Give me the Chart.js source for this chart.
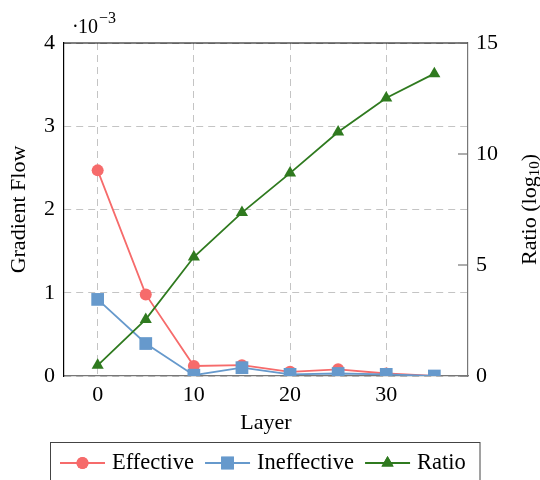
<!DOCTYPE html>
<html>
<head>
<meta charset="utf-8">
<script src="https://cdn.jsdelivr.net/npm/chart.js@4.4.1/dist/chart.umd.min.js"></script>
<style>
  html, body { margin: 0; padding: 0; background: #fff; }
  #chart { display: block; }
</style>
</head>
<body>
<canvas id="chart" width="540" height="480"></canvas>
<script>
// --- Data ---
const layers      = [0, 5, 10, 15, 20, 25, 30, 35];
const effective   = [2.47, 0.98, 0.12, 0.13, 0.05, 0.08, 0.03, 0.00];   // x 10^-3
const ineffective = [0.92, 0.39, 0.01, 0.10, 0.02, 0.03, 0.02, 0.00];   // x 10^-3
const ratio       = [0.48, 2.55, 5.36, 7.36, 9.14, 10.99, 12.52, 13.62]; // log10
const xTicks      = [0, 10, 20, 30];
const seriesNames = ['Effective', 'Ineffective', 'Ratio'];

// --- Style ---
const RED   = '#f66b6b';
const BLUE  = '#6699cc';
const GREEN = '#2f7a1f';
const GRID  = '#c4c4c4';
const AXIS  = '#777';
const FONT  = '"Liberation Serif", "Times New Roman", serif';
const DASH  = [7, 5];

const pts = ys => layers.map((x, i) => ({ x, y: ys[i] }));
const tickFont = { family: FONT, size: 22 };

// --- Extras: top frame, inward ticks, exponent, right title, legend ---
const extras = {
  id: 'extras',
  afterDraw(chart) {
    const { ctx, chartArea: a } = chart;
    ctx.save();

    // top frame line
    ctx.strokeStyle = '#000';
    ctx.lineWidth = 1.2;
    ctx.beginPath();
    ctx.moveTo(a.left, a.top);
    ctx.lineTo(a.right, a.top);
    ctx.stroke();

    // right axis ticks pointing inward
    const y1 = chart.scales.y1;
    ctx.strokeStyle = AXIS;
    y1.ticks.forEach(t => {
      const py = y1.getPixelForValue(t.value);
      ctx.beginPath();
      ctx.moveTo(a.right - 10, py);
      ctx.lineTo(a.right, py);
      ctx.stroke();
    });

    // exponent above left axis
    ctx.fillStyle = '#000';
    ctx.textBaseline = 'alphabetic';
    ctx.textAlign = 'left';
    ctx.font = `20px ${FONT}`;
    ctx.fillText('\u00b7', 72, 33);
    ctx.fillText('10', 78, 33);
    ctx.font = `16px ${FONT}`;
    ctx.fillText('\u22123', 99, 23);

    // right axis title, reading upward, with subscript
    ctx.translate(530, (a.top + a.bottom) / 2);
    ctx.rotate(-Math.PI / 2);
    ctx.textBaseline = 'middle';
    const big = `22px ${FONT}`, small = `15px ${FONT}`;
    ctx.font = big;
    const w1 = ctx.measureText('Ratio (log').width;
    const w3 = ctx.measureText(')').width;
    ctx.font = small;
    const w2 = ctx.measureText('10').width;
    let tx = -(w1 + w2 + w3) / 2;
    ctx.font = big;
    ctx.fillText('Ratio (log', tx, 0);
    tx += w1;
    ctx.font = small;
    ctx.fillText('10', tx, 5);
    tx += w2;
    ctx.font = big;
    ctx.fillText(')', tx, 0);
    ctx.setTransform(1, 0, 0, 1, 0, 0);

    // legend
    ctx.strokeStyle = '#444';
    ctx.lineWidth = 1;
    ctx.strokeRect(50.5, 442.5, 429.5, 60);
    const colors = [RED, BLUE, GREEN];
    const styles = [
      { pointStyle: 'circle', radius: 6 },
      { pointStyle: 'rect', radius: 9 },
      { pointStyle: 'triangle', radius: 7 }
    ];
    const ly = 463;
    let lx = 60;
    ctx.font = `22.5px ${FONT}`;
    ctx.textBaseline = 'alphabetic';
    seriesNames.forEach((name, i) => {
      ctx.strokeStyle = colors[i];
      ctx.fillStyle = colors[i];
      ctx.lineWidth = 1.8;
      ctx.beginPath();
      ctx.moveTo(lx, ly);
      ctx.lineTo(lx + 45, ly);
      ctx.stroke();
      Chart.helpers.drawPoint(ctx, { ...styles[i], rotation: 0, borderWidth: 0 }, lx + 22.5, ly);
      ctx.fill();
      ctx.fillStyle = '#000';
      ctx.fillText(name, lx + 52, 469);
      lx += 52 + ctx.measureText(name).width + 11;
    });

    ctx.restore();
  }
};

// --- Chart ---
new Chart(document.getElementById('chart'), {
  type: 'line',
  data: {
    datasets: [
      {
        label: seriesNames[0], data: pts(effective), yAxisID: 'y', order: 2,
        borderColor: RED, backgroundColor: RED, borderWidth: 1.8,
        pointStyle: 'circle', pointRadius: 6, pointBorderWidth: 0
      },
      {
        label: seriesNames[1], data: pts(ineffective), yAxisID: 'y', order: 1,
        borderColor: BLUE, backgroundColor: BLUE, borderWidth: 1.8,
        pointStyle: 'rect', pointRadius: 9, pointBorderWidth: 0
      },
      {
        label: seriesNames[2], data: pts(ratio), yAxisID: 'y1', order: 0,
        borderColor: GREEN, backgroundColor: GREEN, borderWidth: 1.8,
        pointStyle: 'triangle', pointRadius: 7, pointBorderWidth: 0
      }
    ]
  },
  options: {
    responsive: false,
    animation: false,
    devicePixelRatio: 1,
    layout: { padding: { top: 43, bottom: 44, left: 0, right: 0 } },
    plugins: { legend: { display: false }, tooltip: { enabled: false } },
    scales: {
      x: {
        type: 'linear', min: -3.5, max: 38.5,
        afterBuildTicks: s => { s.ticks = xTicks.map(v => ({ value: v })); },
        afterFit: s => { s.height = 60; },
        ticks: { font: tickFont, color: '#000', padding: 6 },
        grid: { color: GRID, drawTicks: false },
        border: { color: AXIS, width: 1.2, dash: DASH },
        title: { display: true, text: 'Layer', font: tickFont, color: '#000', padding: 0 }
      },
      y: {
        position: 'left', min: 0, max: 4,
        afterFit: s => { s.width = 64; },
        ticks: { stepSize: 1, font: tickFont, color: '#000', padding: 9 },
        grid: { color: GRID, drawTicks: false },
        border: { color: '#000', width: 1.2, dash: DASH },
        title: { display: true, text: 'Gradient Flow', font: tickFont, color: '#000', padding: { top: 6 } }
      },
      y1: {
        position: 'right', min: 0, max: 15,
        afterFit: s => { s.width = 72; },
        ticks: { stepSize: 5, font: tickFont, color: '#000', padding: 8 },
        grid: { drawOnChartArea: false, drawTicks: false },
        border: { color: AXIS, width: 1.2 }
      }
    }
  },
  plugins: [extras]
});
</script>
</body>
</html>
